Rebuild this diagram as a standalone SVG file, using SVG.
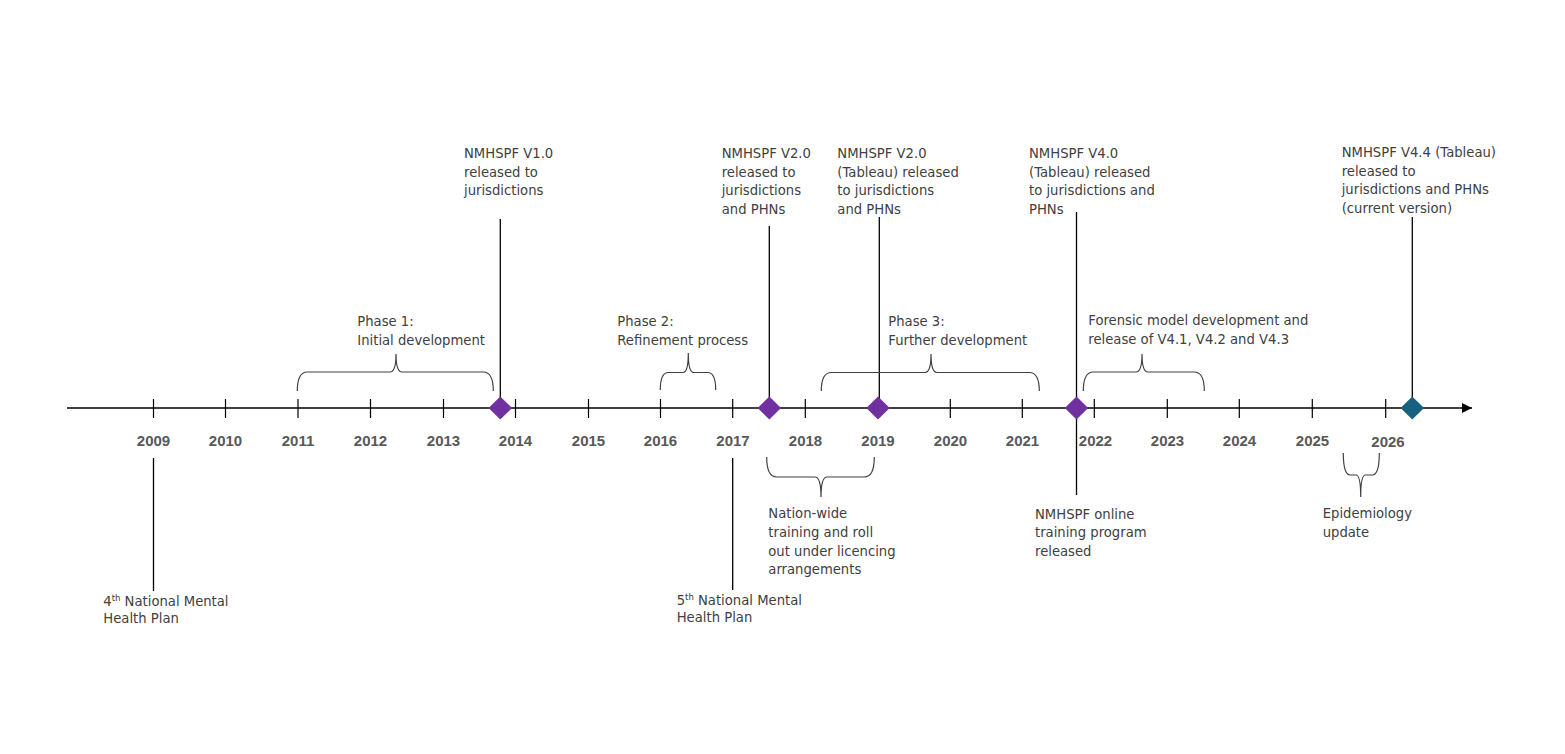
<svg xmlns="http://www.w3.org/2000/svg" width="1565" height="754" viewBox="0 0 1565 754">
<style>
.t{font-family:"DejaVu Sans",Verdana,sans-serif;font-size:13.2px;fill:#404040}
.yr{font-family:"Liberation Sans",Arial,sans-serif;font-size:15px;font-weight:bold;fill:#595959;text-anchor:middle}
.ln{stroke:#000;stroke-width:1.3;fill:none}
.br{stroke:#404040;stroke-width:1.2;fill:none}
.tk{stroke:#000;stroke-width:1.2}
.dp{fill:#7030A0}
.dt{fill:#17617F}
.sup{font-size:8.5px}
</style>
<defs>
<marker id="arr" viewBox="0 0 10 10" refX="10" refY="5" markerWidth="10" markerHeight="10" markerUnits="userSpaceOnUse" orient="auto">
<path d="M0,0 L10,5 L0,10 z" fill="#000"/>
</marker>
</defs>
<rect width="1565" height="754" fill="#fff"/>
<g id="axis">
<line class="ln" x1="67" y1="408" x2="1472" y2="408" marker-end="url(#arr)"/>
<g class="tk">
<line x1="153.5" y1="399" x2="153.5" y2="418"/>
<line x1="225.5" y1="399" x2="225.5" y2="418"/>
<line x1="298" y1="399" x2="298" y2="418"/>
<line x1="370.5" y1="399" x2="370.5" y2="418"/>
<line x1="443.5" y1="399" x2="443.5" y2="418"/>
<line x1="515.5" y1="399" x2="515.5" y2="418"/>
<line x1="588.5" y1="399" x2="588.5" y2="418"/>
<line x1="660.5" y1="399" x2="660.5" y2="418"/>
<line x1="732.7" y1="399" x2="732.7" y2="418"/>
<line x1="805.3" y1="399" x2="805.3" y2="418"/>
<line x1="878" y1="399" x2="878" y2="418"/>
<line x1="950.3" y1="399" x2="950.3" y2="418"/>
<line x1="1022.3" y1="399" x2="1022.3" y2="418"/>
<line x1="1094.3" y1="399" x2="1094.3" y2="418"/>
<line x1="1167.3" y1="399" x2="1167.3" y2="418"/>
<line x1="1239.3" y1="399" x2="1239.3" y2="418"/>
<line x1="1312.3" y1="399" x2="1312.3" y2="418"/>
<line x1="1385.7" y1="399" x2="1385.7" y2="418"/>
</g>
<g>
<text class="yr" x="153.5" y="446">2009</text>
<text class="yr" x="225.5" y="446">2010</text>
<text class="yr" x="298" y="446">2011</text>
<text class="yr" x="370.5" y="446">2012</text>
<text class="yr" x="443.5" y="446">2013</text>
<text class="yr" x="515.5" y="446">2014</text>
<text class="yr" x="588.5" y="446">2015</text>
<text class="yr" x="660.5" y="446">2016</text>
<text class="yr" x="733" y="446">2017</text>
<text class="yr" x="805.5" y="446">2018</text>
<text class="yr" x="878" y="446">2019</text>
<text class="yr" x="950.5" y="446">2020</text>
<text class="yr" x="1022.5" y="446">2021</text>
<text class="yr" x="1095.5" y="446">2022</text>
<text class="yr" x="1167.5" y="446">2023</text>
<text class="yr" x="1239.5" y="446">2024</text>
<text class="yr" x="1312.5" y="446">2025</text>
<text class="yr" x="1388" y="447">2026</text>
</g>
</g>
<g id="connectors">
<line class="ln" x1="500.3" y1="219" x2="500.3" y2="408"/>
<line class="ln" x1="769.3" y1="226" x2="769.3" y2="408"/>
<line class="ln" x1="879.3" y1="217" x2="879.3" y2="408"/>
<line class="ln" x1="1076.5" y1="212" x2="1076.5" y2="495"/>
<line class="ln" x1="1412.3" y1="217" x2="1412.3" y2="408"/>
<line class="ln" x1="153.5" y1="458" x2="153.5" y2="591"/>
<line class="ln" x1="732.7" y1="458" x2="732.7" y2="590"/>
</g>
<g id="v10">
<path class="dp" d="M500.3,396.5 L512,408 L500.3,419.5 L488.6,408 z"/>
<text class="t" x="464" y="158">NMHSPF V1.0</text>
<text class="t" x="464" y="176.6">released to</text>
<text class="t" x="464" y="195.2">jurisdictions</text>
</g>
<g id="v20">
<path class="dp" d="M769.3,396.5 L781,408 L769.3,419.5 L757.6,408 z"/>
<text class="t" x="721.7" y="158">NMHSPF V2.0</text>
<text class="t" x="721.7" y="176.6">released to</text>
<text class="t" x="721.7" y="195.2">jurisdictions</text>
<text class="t" x="721.7" y="213.8">and PHNs</text>
</g>
<g id="v20t">
<path class="dp" d="M878,396.5 L889.7,408 L878,419.5 L866.3,408 z"/>
<text class="t" x="837.3" y="158">NMHSPF V2.0</text>
<text class="t" x="837.3" y="176.6">(Tableau) released</text>
<text class="t" x="837.3" y="195.2">to jurisdictions</text>
<text class="t" x="837.3" y="213.8">and PHNs</text>
</g>
<g id="v40">
<path class="dp" d="M1076.5,396.5 L1088.2,408 L1076.5,419.5 L1064.8,408 z"/>
<text class="t" x="1029" y="158">NMHSPF V4.0</text>
<text class="t" x="1029" y="176.6">(Tableau) released</text>
<text class="t" x="1029" y="195.2">to jurisdictions and</text>
<text class="t" x="1029" y="213.8">PHNs</text>
</g>
<g id="v44">
<path class="dt" d="M1412.3,396.5 L1424,408 L1412.3,419.5 L1400.6,408 z"/>
<text class="t" x="1341.7" y="157">NMHSPF V4.4 (Tableau)</text>
<text class="t" x="1341.7" y="175.6">released to</text>
<text class="t" x="1341.7" y="194.2">jurisdictions and PHNs</text>
<text class="t" x="1341.7" y="212.8">(current version)</text>
</g>
<g id="phase1">
<path class="br" d="M297.3,391 Q297.3,372 307.3,372 L390,372 Q396,372 396,354 Q396,372 402,372 L483.3,372 Q493.3,372 493.3,391"/>
<text class="t" x="357.3" y="326">Phase 1:</text>
<text class="t" x="357.3" y="344.5">Initial development</text>
</g>
<g id="phase2">
<path class="br" d="M660.3,390 Q660.3,372.5 668.3,372.5 L683,372.5 Q688.3,372.5 688.3,353 Q688.3,372.5 693.6,372.5 L707.7,372.5 Q715.7,372.5 715.7,390"/>
<text class="t" x="617.3" y="326">Phase 2:</text>
<text class="t" x="617.3" y="344.5">Refinement process</text>
</g>
<g id="phase3">
<path class="br" d="M821.3,391 Q821.3,372.5 831.3,372.5 L925,372.5 Q931,372.5 931,354 Q931,372.5 937,372.5 L1029.3,372.5 Q1039.3,372.5 1039.3,391"/>
<text class="t" x="888.3" y="326">Phase 3:</text>
<text class="t" x="888.3" y="344.5">Further development</text>
</g>
<g id="forensic">
<path class="br" d="M1083.3,391 Q1083.3,372 1093.3,372 L1136,372 Q1142,372 1142,354 Q1142,372 1148,372 L1194.3,372 Q1204.3,372 1204.3,391"/>
<text class="t" x="1088.3" y="325">Forensic model development and</text>
<text class="t" x="1088.3" y="343.5">release of V4.1, V4.2 and V4.3</text>
</g>
<g id="training">
<path class="br" d="M766.7,457 Q766.7,477 776.7,477 L815,477 Q821,477 821,497 Q821,477 827,477 L864.3,477 Q874.3,477 874.3,457"/>
<text class="t" x="768.3" y="518.3">Nation-wide</text>
<text class="t" x="768.3" y="536.9">training and roll</text>
<text class="t" x="768.3" y="555.5">out under licencing</text>
<text class="t" x="768.3" y="574.1">arrangements</text>
</g>
<g id="online">
<text class="t" x="1035" y="518.5">NMHSPF online</text>
<text class="t" x="1035" y="537.1">training program</text>
<text class="t" x="1035" y="555.7">released</text>
</g>
<g id="epi">
<path class="br" d="M1343.3,453 Q1343.3,475 1350.3,475 L1356,475 Q1360.7,475 1360.7,497 Q1360.7,475 1365.4,475 L1372.3,475 Q1379.3,475 1379.3,453"/>
<text class="t" x="1322.7" y="518">Epidemiology</text>
<text class="t" x="1322.7" y="536.6">update</text>
</g>
<g id="plan4">
<text class="t" x="103.3" y="605.5">4<tspan class="sup" dy="-5">th</tspan><tspan dy="5"> National Mental</tspan></text>
<text class="t" x="103.3" y="623">Health Plan</text>
</g>
<g id="plan5">
<text class="t" x="676.7" y="604.5">5<tspan class="sup" dy="-5">th</tspan><tspan dy="5"> National Mental</tspan></text>
<text class="t" x="676.7" y="622">Health Plan</text>
</g>
</svg>
